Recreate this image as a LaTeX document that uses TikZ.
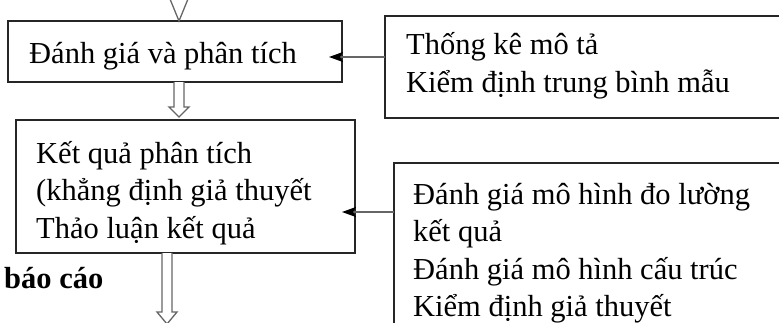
\documentclass[tikz,border=0pt]{standalone}
\usepackage{fontspec}
\setmainfont{Liberation Serif}
\usetikzlibrary{arrows.meta,calc}
\begin{document}
\begin{tikzpicture}[x=1pt,y=-1pt,
  box/.style={draw=black!85,line width=1.3pt,anchor=north west,inner sep=0pt,outer sep=0pt},
  txt/.style={anchor=base west,inner sep=0pt,font=\fontsize{30.5}{38}\selectfont},
  feed/.style={draw=black!60,line width=1.6pt,-{Stealth[length=14pt,width=10pt,inset=3pt,color=black,fill=black]},shorten >=-13pt},
  hollow/.style={draw=black!60,line width=1.3pt,fill=white,line join=miter}]
\useasboundingbox (0,0) rectangle (779,322);
\clip (0,0) rectangle (779,322);
\fill[white] (0,0) rectangle (779,322);
% boxes
\node[box,minimum width=334pt,minimum height=61pt] (b1) at (8,21) {};
\node[box,minimum width=420pt,minimum height=102pt] (b2) at (385,16) {};
\node[box,minimum width=339pt,minimum height=133pt] (b3) at (16,120) {};
\node[box,minimum width=420pt,minimum height=200pt] (b4) at (394,163) {};
% texts
\node[txt] (t1) at (29,63) {Đánh giá và phân tích};
\node[txt] (t2a) at (406,54) {Thống kê mô tả};
\node[txt] (t2b) at (406,92) {Kiểm định trung bình mẫu};
\node[txt] (t3a) at (36,163) {Kết quả phân tích};
\node[txt] (t3b) at (36,200) {(khẳng định giả thuyết};
\node[txt] (t3c) at (36,238) {Thảo luận kết quả};
\node[txt] (t4a) at (413,204) {Đánh giá mô hình đo lường};
\node[txt] (t4b) at (413,241) {kết quả};
\node[txt] (t4c) at (413,279) {Đánh giá mô hình cấu trúc};
\node[txt] (t4d) at (413,316) {Kiểm định giả thuyết};
\node[txt,font=\fontsize{30.5}{38}\selectfont\bfseries] (t5) at (4,288) {báo cáo};
% feed arrows
\coordinate (y1) at (0,57);
\coordinate (y2) at (0,212);
\draw[feed] (b2.west |- y1) -- (b1.east |- y1);
\draw[feed] (b4.west |- y2) -- (b3.east |- y2);
% hollow arrows
\draw[hollow] (170,-1) -- (179,21) -- (188,-1);
\draw[hollow] (174,82) -- (174,107) -- (169,107) -- (179,117) -- (189,107) -- (184,107) -- (184,82);
\draw[hollow] (162,253) -- (162,312) -- (157,312) -- (167,324) -- (177,312) -- (172,312) -- (172,253);
\end{tikzpicture}
\end{document}
